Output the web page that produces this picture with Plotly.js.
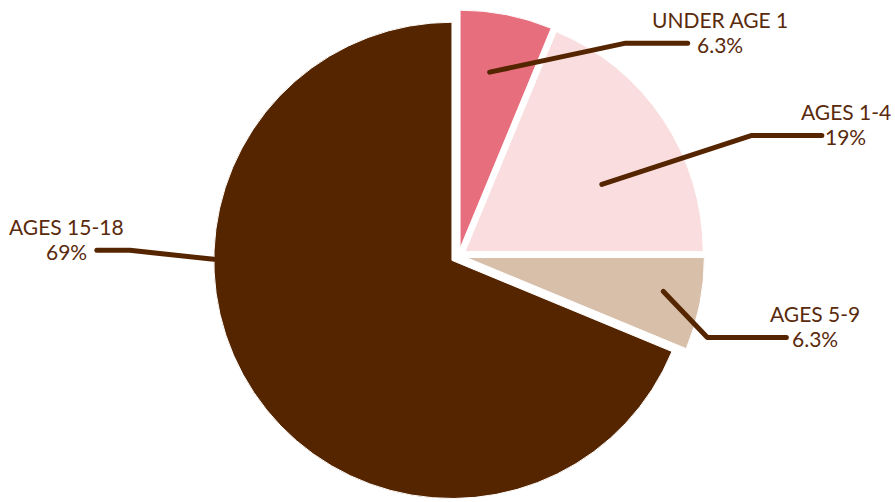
<!DOCTYPE html>
<html>
<head>
<meta charset="utf-8">
<script src="https://cdn.plot.ly/plotly-3.0.1.min.js"></script>
<style>
  html, body { margin: 0; padding: 0; background: #fff; }
  #chart { width: 895px; height: 502px; }
  .shapelayer path { stroke-linecap: round !important; stroke-linejoin: round !important; }
</style>
</head>
<body>
<div id="chart"></div>
<script>
  // age groups, clockwise from 12 o'clock
  const categories = ["UNDER AGE 1", "AGES 1-4", "AGES 5-9", "AGES 15-18"];
  const shares = [6.25, 18.75, 6.25, 68.75];

  const sliceColors = ["#E76E7C", "#FADEDF", "#D7BFAA", "#552500"];
  const inkColor = "#5A2A0C";
  const lineColor = "#552500";

  // leader-line styling per slice: angle tweak, depth into slice, elbow and run in px
  const leaders = [
    { turn: -1.7, reach: 0.75, elbow: [136, -29], run: 62, textDx: 32 },
    { turn: 7.6, reach: 0.64, elbow: [150, -49], run: 70, textDx: 24 },
    { turn: -1.5, reach: 0.84, elbow: [44, 46], run: 79, textDx: 29 },
    { turn: 34, reach: 1.0, elbow: [-84, -9], run: -33, textDx: -30 }
  ];

  const W = 895;
  const H = 502;
  const pull = 0.033;
  const domainX = [22 / W, 1];
  const domainY = [0, 492 / H];

  function pieGeometry() {
    const areaW = W * (domainX[1] - domainX[0]);
    const areaH = H * (domainY[1] - domainY[0]);
    return {
      cx: W * (domainX[0] + domainX[1]) / 2,
      cy: H * (1 - (domainY[0] + domainY[1]) / 2),
      r: Math.min(areaW, areaH) / (2 + 2 * pull)
    };
  }

  function dir(deg) {
    const rad = deg * Math.PI / 180;
    return [Math.sin(rad), -Math.cos(rad)];
  }

  function px(x, y) {
    return `${x / W},${1 - y / H}`;
  }

  function buildLabels() {
    const geo = pieGeometry();
    const total = shares.reduce((a, b) => a + b, 0);
    const shapes = [];
    const annotations = [];
    let cum = 0;

    shares.forEach((value, i) => {
      const mid = (cum + value / 2) / total * 360;
      cum += value;
      const style = leaders[i];
      const m = dir(mid);
      const sx = geo.cx + pull * geo.r * m[0];
      const sy = geo.cy + pull * geo.r * m[1];
      const a = dir(mid + style.turn);
      const ax = sx + style.reach * geo.r * a[0];
      const ay = sy + style.reach * geo.r * a[1];
      const ex = ax + style.elbow[0];
      const ey = ay + style.elbow[1];
      const tx = ex + style.run;

      shapes.push({
        type: "path",
        xref: "paper",
        yref: "paper",
        path: `M${px(ax, ay)} L${px(ex, ey)} L${px(tx, ey)}`,
        line: { color: lineColor, width: 5 }
      });

      const pct = `${(value / total * 100).toPrecision(2)}%`;
      const cx = tx + style.textDx;
      [[categories[i], ey - 24], [pct, ey + 1]].forEach(([text, y]) => {
        annotations.push({
          xref: "paper",
          yref: "paper",
          x: cx / W,
          y: 1 - y / H,
          xanchor: "center",
          yanchor: "middle",
          text,
          showarrow: false,
          font: { family: "Lato, 'Open Sans', sans-serif", size: 21, color: inkColor }
        });
      });
    });

    return { shapes, annotations };
  }

  const extras = buildLabels();

  Plotly.newPlot(
    "chart",
    [
      {
        type: "pie",
        values: shares,
        labels: categories,
        sort: false,
        direction: "clockwise",
        rotation: 0,
        pull: shares.map(() => pull),
        textinfo: "none",
        hoverinfo: "none",
        domain: { x: domainX, y: domainY },
        marker: { colors: sliceColors, line: { color: "#ffffff", width: 1 } }
      }
    ],
    {
      width: W,
      height: H,
      margin: { t: 0, r: 0, b: 0, l: 0 },
      paper_bgcolor: "#ffffff",
      showlegend: false,
      shapes: extras.shapes,
      annotations: extras.annotations
    },
    { displayModeBar: false, staticPlot: true }
  );
</script>
</body>
</html>
